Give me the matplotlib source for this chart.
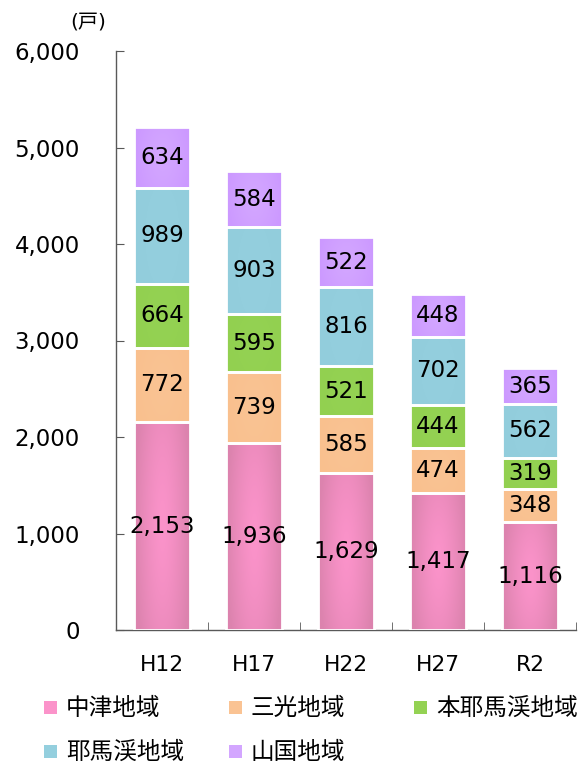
import numpy as np
import matplotlib
matplotlib.use('Agg')
import matplotlib.pyplot as plt
from matplotlib.colors import to_rgb
from matplotlib.patches import Rectangle

plt.rcParams['font.family'] = ['DejaVu Sans', 'Noto Sans CJK JP']

years = ['H12', 'H17', 'H22', 'H27', 'R2']
regions = ['中津地域', '三光地域', '本耶馬渓地域', '耶馬渓地域', '山国地域']
nakatsu = [2153, 1936, 1629, 1417, 1116]
sanko = [772, 739, 585, 474, 348]
honyaba = [664, 595, 521, 444, 319]
yabakei = [989, 903, 816, 702, 562]
yamakuni = [634, 584, 522, 448, 365]
series = [nakatsu, sanko, honyaba, yabakei, yamakuni]

# (edge colour, centre colour) for each region's fill
colors = [('#DC83AE', '#FB93CA'),
          ('#F9C08E', '#FAC393'),
          ('#92D050', '#94D253'),
          ('#92CDDC', '#94CFDE'),
          ('#CC99FF', '#D3A6FF')]

fig = plt.figure(figsize=(5.85, 7.65), dpi=100)
ax = fig.add_axes([116 / 585, 1 - 630 / 765, 460 / 585, 579 / 765])

x = np.arange(len(years))
bottom = np.zeros(len(years))


def gradient(edge, centre, n=60):
    u = np.linspace(-1, 1, n)
    uu, vv = np.meshgrid(u, u)
    d = np.clip(np.sqrt(uu ** 2 + (0.55 * vv) ** 2), 0, 1) ** 1.4
    e = np.array(to_rgb(edge))
    c = np.array(to_rgb(centre))
    return c[None, None, :] * (1 - d[..., None]) + e[None, None, :] * d[..., None]


for vals, (edge, centre) in zip(series, colors):
    bars = ax.bar(x, vals, bottom=bottom, width=0.61, facecolor='none',
                  edgecolor='white', linewidth=2, zorder=3)
    img = gradient(edge, centre)
    for b, v in zip(bars, vals):
        x0, y0 = b.get_x(), b.get_y()
        im = ax.imshow(img, extent=[x0, x0 + b.get_width(), y0, y0 + b.get_height()],
                       aspect='auto', zorder=2, interpolation='bilinear')
        im.set_clip_path(b)
        ax.text(x0 + b.get_width() / 2, y0 + v / 2, f'{v:,}', ha='center',
                va='center', fontsize=16.5, color='black', zorder=4)
    bottom += np.array(vals)

ax.set_xlim(-0.5, 4.5)
ax.set_ylim(0, 6000)
ax.set_aspect('auto')

ax.set_yticks(np.arange(0, 6001, 1000))
ax.set_yticklabels([f'{t:,}' for t in range(0, 6001, 1000)], fontsize=16.5)
ax.tick_params(axis='y', direction='in', length=6, color='#595959', pad=26)

ax.set_xticks(x)
ax.set_xticklabels(years, fontsize=15.7)
ax.set_xticks(np.arange(0.5, 4.6, 1), minor=True)
ax.tick_params(axis='x', which='major', length=0, pad=18)
ax.tick_params(axis='x', which='minor', direction='in', length=6, color='#595959')

for s in ['top', 'right']:
    ax.spines[s].set_visible(False)
for s in ['left', 'bottom']:
    ax.spines[s].set_color('#595959')
    ax.spines[s].set_linewidth(1)

fig.text(88 / 585, 1 - 22 / 765, '(戸)', fontsize=14.5, ha='center', va='center')

# legend, drawn by hand in figure pixels
col_x = [44, 229, 414]
row_y = [708, 752]
for i, name in enumerate(regions):
    cx = col_x[i % 3]
    cy = row_y[i // 3]
    fig.patches.append(Rectangle((cx / 585, 1 - (cy + 6) / 765), 13 / 585, 13 / 765,
                                 transform=fig.transFigure, facecolor=colors[i][1],
                                 edgecolor='none'))
    fig.text((cx + 22) / 585, 1 - cy / 765, name, fontsize=17, ha='left', va='center')

fig.savefig('out.png', dpi=100)
